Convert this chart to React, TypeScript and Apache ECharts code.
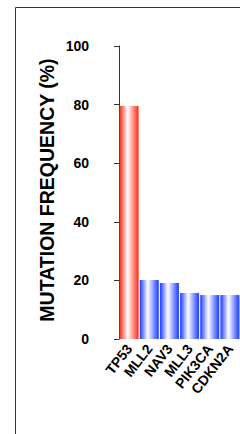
import React, { useEffect, useRef } from "react";
import * as echarts from "echarts";

const genes = ["TP53", "MLL2", "NAV3", "MLL3", "PIK3CA", "CDKN2A"];
const frequency = [79.5, 20.1, 19.1, 15.7, 15.0, 15.0];
const yTicks = [0, 20, 40, 60, 80, 100];
const yTitle = "MUTATION FREQUENCY (%)";

const FONT = "'Liberation Sans', Arial, sans-serif";

function grad(edge: string) {
  return new echarts.graphic.LinearGradient(0, 0, 1, 0, [
    { offset: 0, color: edge },
    { offset: 0.42, color: "#ffffff" },
    { offset: 1, color: edge },
  ]);
}

export default function App() {
  const ref = useRef<HTMLDivElement>(null);
  useEffect(() => {
    document.body.style.margin = "0";
    if (!ref.current) return;
    const chart = echarts.init(ref.current, undefined, { renderer: "svg" });
    chart.setOption({
      animation: false,
      graphic: [
        {
          type: "rect",
          shape: { x: 15.5, y: 7.5, width: 400, height: 600 },
          style: { fill: "none", stroke: "#333", lineWidth: 1 },
          silent: true,
        },
        {
          type: "text",
          x: 47,
          y: 190,
          rotation: Math.PI / 2,
          style: {
            text: yTitle,
            fill: "#000",
            font: `bold 19.5px ${FONT}`,
            align: "center",
            verticalAlign: "middle",
          },
          silent: true,
        },
      ],
      grid: { left: 119, top: 46, width: 126, height: 293 },
      xAxis: {
        type: "category",
        data: genes,
        axisLine: { show: false },
        axisTick: { show: false },
        axisLabel: {
          rotate: 52,
          margin: 7,
          interval: 0,
          color: "#000",
          fontFamily: FONT,
          fontWeight: "bold",
          fontSize: 14,
        },
      },
      yAxis: {
        type: "value",
        min: yTicks[0],
        max: yTicks[yTicks.length - 1],
        interval: 20,
        splitLine: { show: false },
        axisLine: { show: true, lineStyle: { color: "#333", width: 1 } },
        axisTick: { show: true, length: 5, lineStyle: { color: "#333" } },
        axisLabel: {
          margin: 30,
          color: "#000",
          fontFamily: FONT,
          fontWeight: "bold",
          fontSize: 14,
        },
      },
      series: [
        {
          type: "bar",
          barWidth: 19,
          data: frequency.map((v, i) => ({
            value: v,
            itemStyle: { color: i === 0 ? grad("#ff2a14") : grad("#1a3aff") },
          })),
        },
      ],
    });
    return () => chart.dispose();
  }, []);
  return <div ref={ref} style={{ width: 240, height: 434 }} />;
}
